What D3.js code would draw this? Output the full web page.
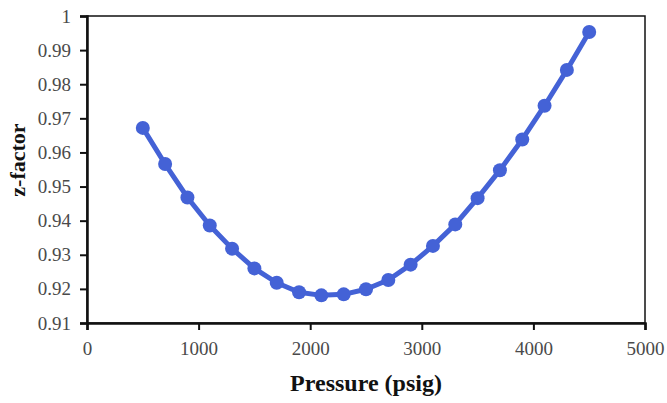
<!DOCTYPE html>
<html>
<head>
  <meta charset='utf-8'>
  <title>z-factor vs pressure</title>
  <script src="https://cdnjs.cloudflare.com/ajax/libs/d3/7.8.5/d3.min.js"></script>
  <style>
    html, body { margin: 0; padding: 0; background: #fff; }
    svg { display: block; font-family: 'Liberation Serif', 'DejaVu Serif', serif; }
  </style>
</head>
<body>
  <svg id="chart"></svg>
  <script>
    // pressure (psig) and z-factor
    const pressure = [500, 700, 900, 1100, 1300, 1500, 1700, 1900, 2100, 2300, 2500,
                      2700, 2900, 3100, 3300, 3500, 3700, 3900, 4100, 4300, 4500];
    const zfactor = [0.9672, 0.9566, 0.9468, 0.9386, 0.9318, 0.9260, 0.9218, 0.9190, 0.9181, 0.9184, 0.9199,
                     0.9226, 0.9271, 0.9326, 0.9389, 0.9466, 0.9548, 0.9638, 0.9737, 0.9842, 0.9953];
    const xTicks = [0, 1000, 2000, 3000, 4000, 5000];
    const yTicks = [0.91, 0.92, 0.93, 0.94, 0.95, 0.96, 0.97, 0.98, 0.99, 1];

    const width = 667, height = 403;
    const margin = { top: 16, right: 22, bottom: 80, left: 87 };
    const serif = "'Liberation Serif', 'Times New Roman', serif";

    const svg = d3.select('#chart')
      .attr('width', width)
      .attr('height', height);

    const x = d3.scaleLinear().domain([0, 5000]).range([margin.left, width - margin.right]);
    const y = d3.scaleLinear().domain([0.91, 1]).range([height - margin.bottom, margin.top]);

    // frame on top and right
    svg.append('rect')
      .attr('x', x(0)).attr('y', y(1))
      .attr('width', x(5000) - x(0)).attr('height', y(0.91) - y(1))
      .attr('fill', 'none').attr('stroke', '#111').attr('stroke-width', 1.5);

    const xAxis = svg.append('g')
      .attr('transform', `translate(0,${y(0.91)})`)
      .call(d3.axisBottom(x).tickValues(xTicks).tickSize(7).tickPadding(12).tickFormat(d3.format('d')));

    const yAxis = svg.append('g')
      .attr('transform', `translate(${x(0)},0)`)
      .call(d3.axisLeft(y).tickValues(yTicks).tickSize(7).tickPadding(9).tickFormat(d => d === 1 ? '1' : d3.format('.2f')(d)));

    [xAxis, yAxis].forEach(a => {
      a.attr('font-family', serif).attr('font-size', 19);
      a.select('.domain').attr('stroke', '#111').attr('stroke-width', 2.5);
      a.selectAll('.tick line').attr('stroke', '#111').attr('stroke-width', 2);
      a.selectAll('.tick text').attr('fill', '#4a4a4a');
    });

    const pts = pressure.map((p, i) => [p, zfactor[i]]);
    const blue = '#4462d6';

    svg.append('path')
      .datum(pts)
      .attr('fill', 'none')
      .attr('stroke', blue)
      .attr('stroke-width', 5)
      .attr('stroke-linejoin', 'round')
      .attr('d', d3.line().x(d => x(d[0])).y(d => y(d[1])));

    svg.append('g')
      .selectAll('circle')
      .data(pts)
      .join('circle')
      .attr('cx', d => x(d[0]))
      .attr('cy', d => y(d[1]))
      .attr('r', 7)
      .attr('fill', blue);

    svg.append('text')
      .attr('x', (x(0) + x(5000)) / 2)
      .attr('y', 391)
      .attr('text-anchor', 'middle')
      .attr('font-family', serif)
      .attr('font-weight', 'bold')
      .attr('font-size', 24)
      .attr('fill', '#111')
      .text('Pressure (psig)');

    svg.append('text')
      .attr('transform', `translate(25,160) rotate(-90)`)
      .attr('text-anchor', 'middle')
      .attr('font-family', serif)
      .attr('font-weight', 'bold')
      .attr('font-size', 22)
      .attr('fill', '#111')
      .text('z-factor');
  </script>
</body>
</html>
